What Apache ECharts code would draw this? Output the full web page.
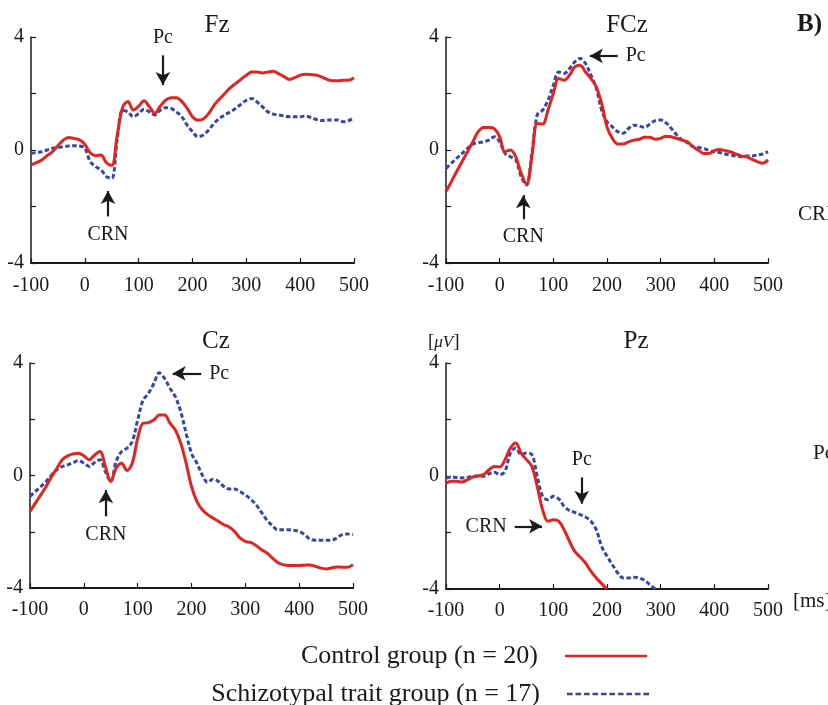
<!DOCTYPE html>
<html>
<head>
<meta charset="utf-8">
<script src="https://cdn.jsdelivr.net/npm/echarts@6/dist/echarts.min.js"></script>
<style>
  html, body { margin: 0; padding: 0; background: #fff; }
  #chart { width: 828px; height: 705px; }
</style>
</head>
<body>
<div id="chart"></div>
<script>
// time axis, ms (10 ms steps)
const times = [];
for (let t = -100; t <= 500; t += 10) times.push(t);

const channels = ['Fz', 'FCz', 'Cz', 'Pz'];
const controlName = 'Control group (n = 20)';
const schizoName = 'Schizotypal trait group (n = 17)';

// amplitudes in µV
const fzControl = [-0.53, -0.45, -0.35, -0.2, -0.06, 0.15, 0.35, 0.44, 0.41, 0.36,
  0.2, -0.1, -0.2, -0.18, -0.45, -0.55, 0.5, 1.5, 1.72, 1.42,
  1.55, 1.74, 1.53, 1.3, 1.55, 1.76, 1.85, 1.85, 1.72, 1.48,
  1.18, 1.06, 1.1, 1.29, 1.58, 1.8, 2.0, 2.2, 2.35, 2.5,
  2.65, 2.76, 2.76, 2.73, 2.76, 2.79, 2.7, 2.6, 2.5, 2.56,
  2.65, 2.68, 2.67, 2.65, 2.59, 2.5, 2.45, 2.45, 2.47, 2.47, 2.56];
const fzSchizo = [-0.12, -0.09, -0.06, 0.0, 0.06, 0.09, 0.12, 0.14, 0.15, 0.14,
  0.06, -0.41, -0.59, -0.7, -0.94, -1.0, 0.35, 1.41, 1.35, 1.18,
  1.29, 1.44, 1.35, 1.24, 1.41, 1.5, 1.47, 1.35, 1.18, 0.88,
  0.65, 0.47, 0.53, 0.71, 0.94, 1.12, 1.24, 1.35, 1.47, 1.62,
  1.76, 1.82, 1.7, 1.53, 1.35, 1.27, 1.24, 1.21, 1.18, 1.18,
  1.18, 1.2, 1.15, 1.08, 1.04, 1.06, 1.06, 1.06, 1.0, 1.04, 1.15];
const fczControl = [-1.47, -1.12, -0.76, -0.41, -0.06, 0.29, 0.65, 0.8, 0.8, 0.76,
  0.47, -0.06, 0.0, -0.24, -0.82, -1.2, -0.24, 0.94, 0.92, 1.41,
  2.0, 2.53, 2.47, 2.65, 2.94, 3.0, 2.76, 2.53, 2.24, 1.65,
  0.82, 0.41, 0.21, 0.21, 0.29, 0.35, 0.38, 0.45, 0.45, 0.38,
  0.41, 0.49, 0.47, 0.41, 0.35, 0.29, 0.12, 0.0, -0.12, -0.12,
  -0.02, 0.02, -0.02, -0.06, -0.14, -0.21, -0.24, -0.33, -0.41, -0.47, -0.35];
const fczSchizo = [-0.65, -0.47, -0.29, -0.12, 0.06, 0.21, 0.26, 0.29, 0.35, 0.47,
  0.29, -0.12, -0.24, -0.35, -0.94, -1.24, -0.12, 1.24, 1.41, 1.76,
  2.29, 2.76, 2.71, 2.88, 3.12, 3.24, 3.06, 2.65, 2.18, 1.41,
  1.0, 0.82, 0.65, 0.59, 0.76, 0.88, 0.85, 0.8, 0.92, 1.04,
  1.06, 0.96, 0.76, 0.53, 0.35, 0.26, 0.12, 0.09, 0.06, -0.02,
  -0.06, -0.09, -0.14, -0.18, -0.21, -0.24, -0.21, -0.21, -0.18, -0.14, -0.06];
const czControl = [-1.28, -0.98, -0.69, -0.39, -0.04, 0.26, 0.56, 0.7, 0.77, 0.79,
  0.7, 0.56, 0.73, 0.85, 0.32, -0.21, 0.26, 0.44, 0.18, 0.44,
  1.32, 1.86, 1.88, 1.97, 2.15, 2.15, 1.86, 1.62, 1.15, 0.44,
  -0.39, -0.92, -1.22, -1.39, -1.51, -1.63, -1.75, -1.83, -1.99, -2.22,
  -2.34, -2.38, -2.49, -2.64, -2.75, -2.93, -3.09, -3.17, -3.2, -3.2,
  -3.2, -3.19, -3.18, -3.23, -3.29, -3.32, -3.29, -3.25, -3.26, -3.26, -3.17];
const czSchizo = [-0.74, -0.57, -0.39, -0.21, 0.02, 0.2, 0.32, 0.38, 0.46, 0.53,
  0.44, 0.32, 0.46, 0.56, 0.14, -0.21, 0.5, 0.85, 0.97, 1.21,
  1.97, 2.68, 2.92, 3.27, 3.65, 3.45, 3.1, 2.8, 2.27, 1.5,
  0.79, 0.44, 0.02, -0.24, -0.13, -0.21, -0.39, -0.48, -0.48, -0.57,
  -0.69, -0.84, -1.04, -1.31, -1.58, -1.78, -1.93, -1.93, -1.93, -1.95,
  -1.99, -2.1, -2.26, -2.3, -2.3, -2.3, -2.3, -2.22, -2.1, -2.08, -2.1];
const pzControl = [-0.25, -0.19, -0.19, -0.21, -0.13, -0.04, 0.01, 0.05, 0.22, 0.34,
  0.32, 0.58, 0.99, 1.17, 0.81, 0.58, 0.34, -0.37, -1.19, -1.6,
  -1.55, -1.6, -1.9, -2.31, -2.67, -2.87, -3.08, -3.37, -3.61, -3.81,
  -4.0, null, null, null, null, null, null, null, null, null,
  null, null, null, null, null, null, null, null, null, null,
  null, null, null, null, null, null, null, null, null, null, null];
const pzSchizo = [-0.07, -0.04, -0.05, -0.07, -0.05, -0.01, -0.01, -0.01, 0.08, 0.13,
  0.05, 0.17, 0.81, 0.99, 0.76, 0.81, 0.76, -0.01, -0.72, -0.84,
  -0.72, -0.81, -1.07, -1.22, -1.29, -1.37, -1.45, -1.6, -1.9, -2.49,
  -2.84, -3.14, -3.43, -3.61, -3.61, -3.58, -3.61, -3.69, -3.85, -4.0,
  null, null, null, null, null, null, null, null, null, null,
  null, null, null, null, null, null, null, null, null, null, null];

const controlSeries = [fzControl, fczControl, czControl, pzControl];
const schizoSeries = [fzSchizo, fczSchizo, czSchizo, pzSchizo];

// arrow annotations: [label, from, to]
const annotations = [
  [['Pc', [145, 3.35], [145, 2.3]], ['CRN', [43, -2.35], [43, -1.45]]],
  [['Pc', [220, 3.33], [168, 3.33]], ['CRN', [44, -2.45], [44, -1.6]]],
  [['Pc', [218, 3.63], [165, 3.63]], ['CRN', [41, -1.45], [41, -0.52]]],
  [['Pc', [153, -0.05], [153, -0.98]], ['CRN', [28, -1.78], [79, -1.78]]]
];

const grids = [
  { left: 31, top: 37, width: 323, height: 226 },
  { left: 446, top: 37, width: 322, height: 226 },
  { left: 30, top: 363, width: 323, height: 225 },
  { left: 446, top: 363, width: 322, height: 226 }
];
const titlePos = [[217, 13], [627, 13], [216, 329], [636, 329]];

const RED = '#e3231f';
const BLUE = '#3547a8';
const INK = '#1a1a1a';
const SERIF = '"Liberation Serif", "DejaVu Serif", serif';

// dashed legend swatch
let dashPath = 'path://';
for (let x = 0; x < 82; x += 9) dashPath += 'M' + x + ',0h6v2.5h-6z';

const arrowLine = (ann) => ({
  silent: true,
  symbol: ['none', 'arrow'],
  symbolSize: [11, 13],
  lineStyle: { color: INK, width: 2.2, type: 'solid' },
  label: {
    show: true, position: 'start', formatter: (p) => p.name,
    color: INK, fontFamily: SERIF, fontSize: 20, distance: 8
  },
  emphasis: { disabled: true },
  data: ann.map(a => [{ name: a[0], coord: a[1] }, { coord: a[2] }])
});

const legendText = { fontFamily: SERIF, fontSize: 26, color: INK, padding: [0, 22, 0, 0] };

const option = {
  animation: false,
  backgroundColor: '#fff',
  title: channels.map((c, i) => ({
    text: c, left: titlePos[i][0], top: titlePos[i][1], textAlign: 'center', padding: 0,
    textStyle: { fontFamily: SERIF, fontSize: 25, fontWeight: 'normal', color: INK }
  })),
  legend: [
    {
      data: [controlName], right: 176, top: 638, align: 'right', orient: 'vertical',
      itemWidth: 82, itemHeight: 16, itemGap: 0, icon: 'path://M0,0L82,0L82,2.5L0,2.5Z',
      itemStyle: { color: RED }, textStyle: legendText
    },
    {
      data: [schizoName], right: 174, top: 676, align: 'right', orient: 'vertical',
      itemWidth: 82, itemHeight: 16, itemGap: 0, icon: dashPath,
      itemStyle: { color: BLUE }, textStyle: legendText
    }
  ],
  grid: grids.map(g => Object.assign({ containLabel: false }, g)),
  xAxis: grids.map((g, i) => ({
    type: 'value', gridIndex: i, min: -100, max: 500, interval: 100,
    axisLine: { show: true, onZero: false, lineStyle: { color: INK, width: 2 } },
    axisTick: { show: true, inside: true, length: 5, lineStyle: { color: INK, width: 1.2 } },
    axisLabel: { color: INK, fontFamily: SERIF, fontSize: 20, margin: i < 2 ? 13 : 12 },
    splitLine: { show: false }
  })),
  yAxis: grids.map((g, i) => ({
    type: 'value', gridIndex: i, min: -4, max: 4, interval: 2,
    axisLine: { show: true, onZero: false, lineStyle: { color: INK, width: 1.5 } },
    axisTick: { show: true, inside: true, length: 5, lineStyle: { color: INK, width: 1.2 } },
    axisLabel: {
      color: INK, fontFamily: SERIF, fontSize: 20, margin: 7,
      formatter: (v) => (v === 2 || v === -2) ? '' : String(v)
    },
    splitLine: { show: false }
  })),
  series: channels.flatMap((c, i) => [
    {
      name: schizoName, type: 'line', xAxisIndex: i, yAxisIndex: i,
      data: times.map((t, k) => [t, schizoSeries[i][k]]),
      smooth: 0.35, showSymbol: false, symbol: 'none', connectNulls: false,
      lineStyle: { color: BLUE, width: 3, type: [4.5, 2.5] },
      itemStyle: { color: BLUE },
      z: 2
    },
    {
      name: controlName, type: 'line', xAxisIndex: i, yAxisIndex: i,
      data: times.map((t, k) => [t, controlSeries[i][k]]),
      smooth: 0.35, showSymbol: false, symbol: 'none', connectNulls: false,
      lineStyle: { color: RED, width: 3 },
      itemStyle: { color: RED },
      markLine: arrowLine(annotations[i]),
      z: 3
    }
  ]),
  graphic: [
    { type: 'text', left: 797, top: 12, style: { text: 'B)', font: 'bold 25px ' + SERIF, fill: INK } },
    { type: 'text', left: 798, top: 204, style: { text: 'CRN', font: '21px ' + SERIF, fill: INK } },
    { type: 'text', left: 813, top: 443, style: { text: 'Pc', font: '21px ' + SERIF, fill: INK } },
    {
      type: 'text', left: 428, top: 333,
      style: {
        text: '{b|[}{i|μV}{b|]}',
        rich: {
          b: { font: '19px ' + SERIF, fill: INK },
          i: { font: 'italic 17px ' + SERIF, fill: INK }
        }
      }
    },
    { type: 'text', left: 793, top: 591, style: { text: '[ms]', font: '21px ' + SERIF, fill: INK } }
  ]
};

const chart = echarts.init(document.getElementById('chart'), null, { renderer: 'canvas' });
chart.setOption(option);
</script>
</body>
</html>
